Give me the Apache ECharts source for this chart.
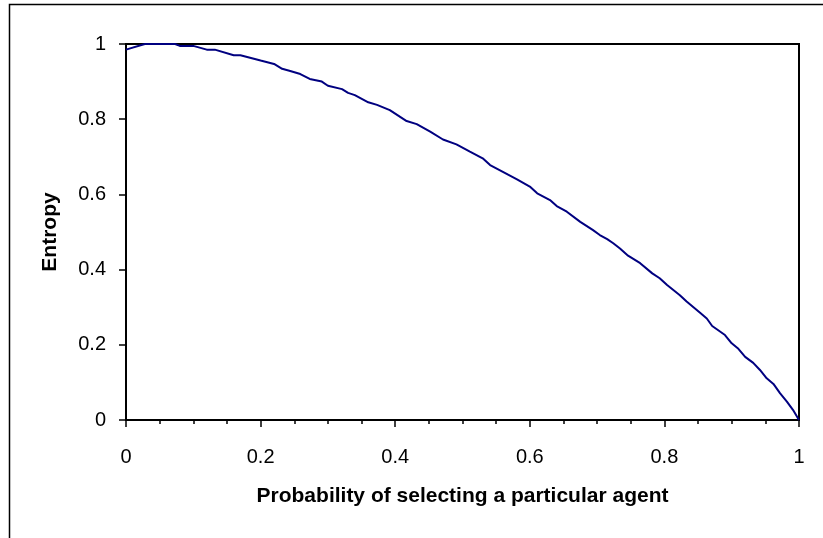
<!DOCTYPE html>
<html>
<head>
<meta charset="utf-8">
<script src="https://cdn.jsdelivr.net/npm/echarts@6/dist/echarts.min.js"></script>
<style>
html,body{margin:0;padding:0;background:#fff;}
#chart{width:823px;height:538px;}
</style>
</head>
<body>
<div id="chart"></div>
<script>
// Probability of selecting a particular agent (x)
var probability = [0, 0.028, 0.073, 0.08, 0.10, 0.12, 0.132, 0.16, 0.17, 0.2, 0.22, 0.232, 0.244, 0.259, 0.273, 0.291, 0.30, 0.321, 0.33, 0.34, 0.36, 0.373, 0.392, 0.417, 0.432, 0.452, 0.471, 0.491, 0.511, 0.53, 0.541, 0.56, 0.581, 0.60, 0.611, 0.63, 0.64, 0.655, 0.675, 0.694, 0.704, 0.715, 0.724, 0.734, 0.746, 0.764, 0.782, 0.793, 0.804, 0.823, 0.833, 0.853, 0.863, 0.871, 0.89, 0.90, 0.909, 0.92, 0.932, 0.942, 0.952, 0.962, 0.972, 0.982, 0.991, 1];
// Entropy (y)
var entropy = [0.985, 1, 1, 0.995, 0.995, 0.985, 0.985, 0.97, 0.97, 0.956, 0.947, 0.934, 0.928, 0.920, 0.907, 0.900, 0.889, 0.880, 0.870, 0.864, 0.845, 0.838, 0.824, 0.795, 0.787, 0.767, 0.746, 0.733, 0.714, 0.696, 0.678, 0.660, 0.640, 0.621, 0.603, 0.585, 0.569, 0.554, 0.527, 0.505, 0.492, 0.481, 0.470, 0.456, 0.437, 0.417, 0.390, 0.377, 0.359, 0.332, 0.315, 0.285, 0.270, 0.250, 0.226, 0.204, 0.191, 0.168, 0.152, 0.133, 0.111, 0.096, 0.071, 0.049, 0.027, 0];
var xTitle = 'Probability of selecting a particular agent';
var yTitle = 'Entropy';

var seriesData = probability.map(function (p, i) { return [p, entropy[i]]; });

var chart = echarts.init(document.getElementById('chart'), null, {renderer: 'canvas'});
var font = '"Liberation Sans", Arial, sans-serif';
chart.setOption({
  animation: false,
  backgroundColor: '#fff',
  graphic: [{
    type: 'rect',
    shape: {x: 9.5, y: 4.5, width: 900, height: 700},
    style: {fill: 'none', stroke: '#000', lineWidth: 1.5},
    silent: true
  }],
  grid: {
    left: 126, right: 24, top: 44, bottom: 118,
    show: true, borderColor: '#000', borderWidth: 2, backgroundColor: 'transparent'
  },
  xAxis: {
    type: 'value', min: 0, max: 1, interval: 0.2,
    name: xTitle, nameLocation: 'middle', nameGap: 66,
    nameTextStyle: {fontFamily: font, fontWeight: 'bold', fontSize: 21, color: '#000'},
    axisLine: {show: true, lineStyle: {color: '#000', width: 2}},
    axisTick: {show: true, length: 7, lineStyle: {color: '#000', width: 1.5}},
    minorTick: {show: true, splitNumber: 4, length: 4, lineStyle: {color: '#000', width: 1.5}},
    splitLine: {show: false},
    axisLabel: {fontFamily: font, fontSize: 20, color: '#000', margin: 27,
      formatter: function (v) { return String(+v.toFixed(1)); }}
  },
  yAxis: {
    type: 'value', min: 0, max: 1, interval: 0.2,
    name: yTitle, nameLocation: 'middle', nameGap: 65,
    nameTextStyle: {fontFamily: font, fontWeight: 'bold', fontSize: 21, color: '#000'},
    axisLine: {show: true, lineStyle: {color: '#000', width: 2}},
    axisTick: {show: true, length: 7, lineStyle: {color: '#000', width: 1.5}},
    splitLine: {show: false},
    axisLabel: {fontFamily: font, fontSize: 20, color: '#000', margin: 20,
      formatter: function (v) { return String(+v.toFixed(1)); }}
  },
  series: [{
    type: 'line',
    data: seriesData,
    showSymbol: false,
    symbol: 'none',
    lineStyle: {color: '#000080', width: 2},
    clip: false
  }]
});
</script>
</body>
</html>
